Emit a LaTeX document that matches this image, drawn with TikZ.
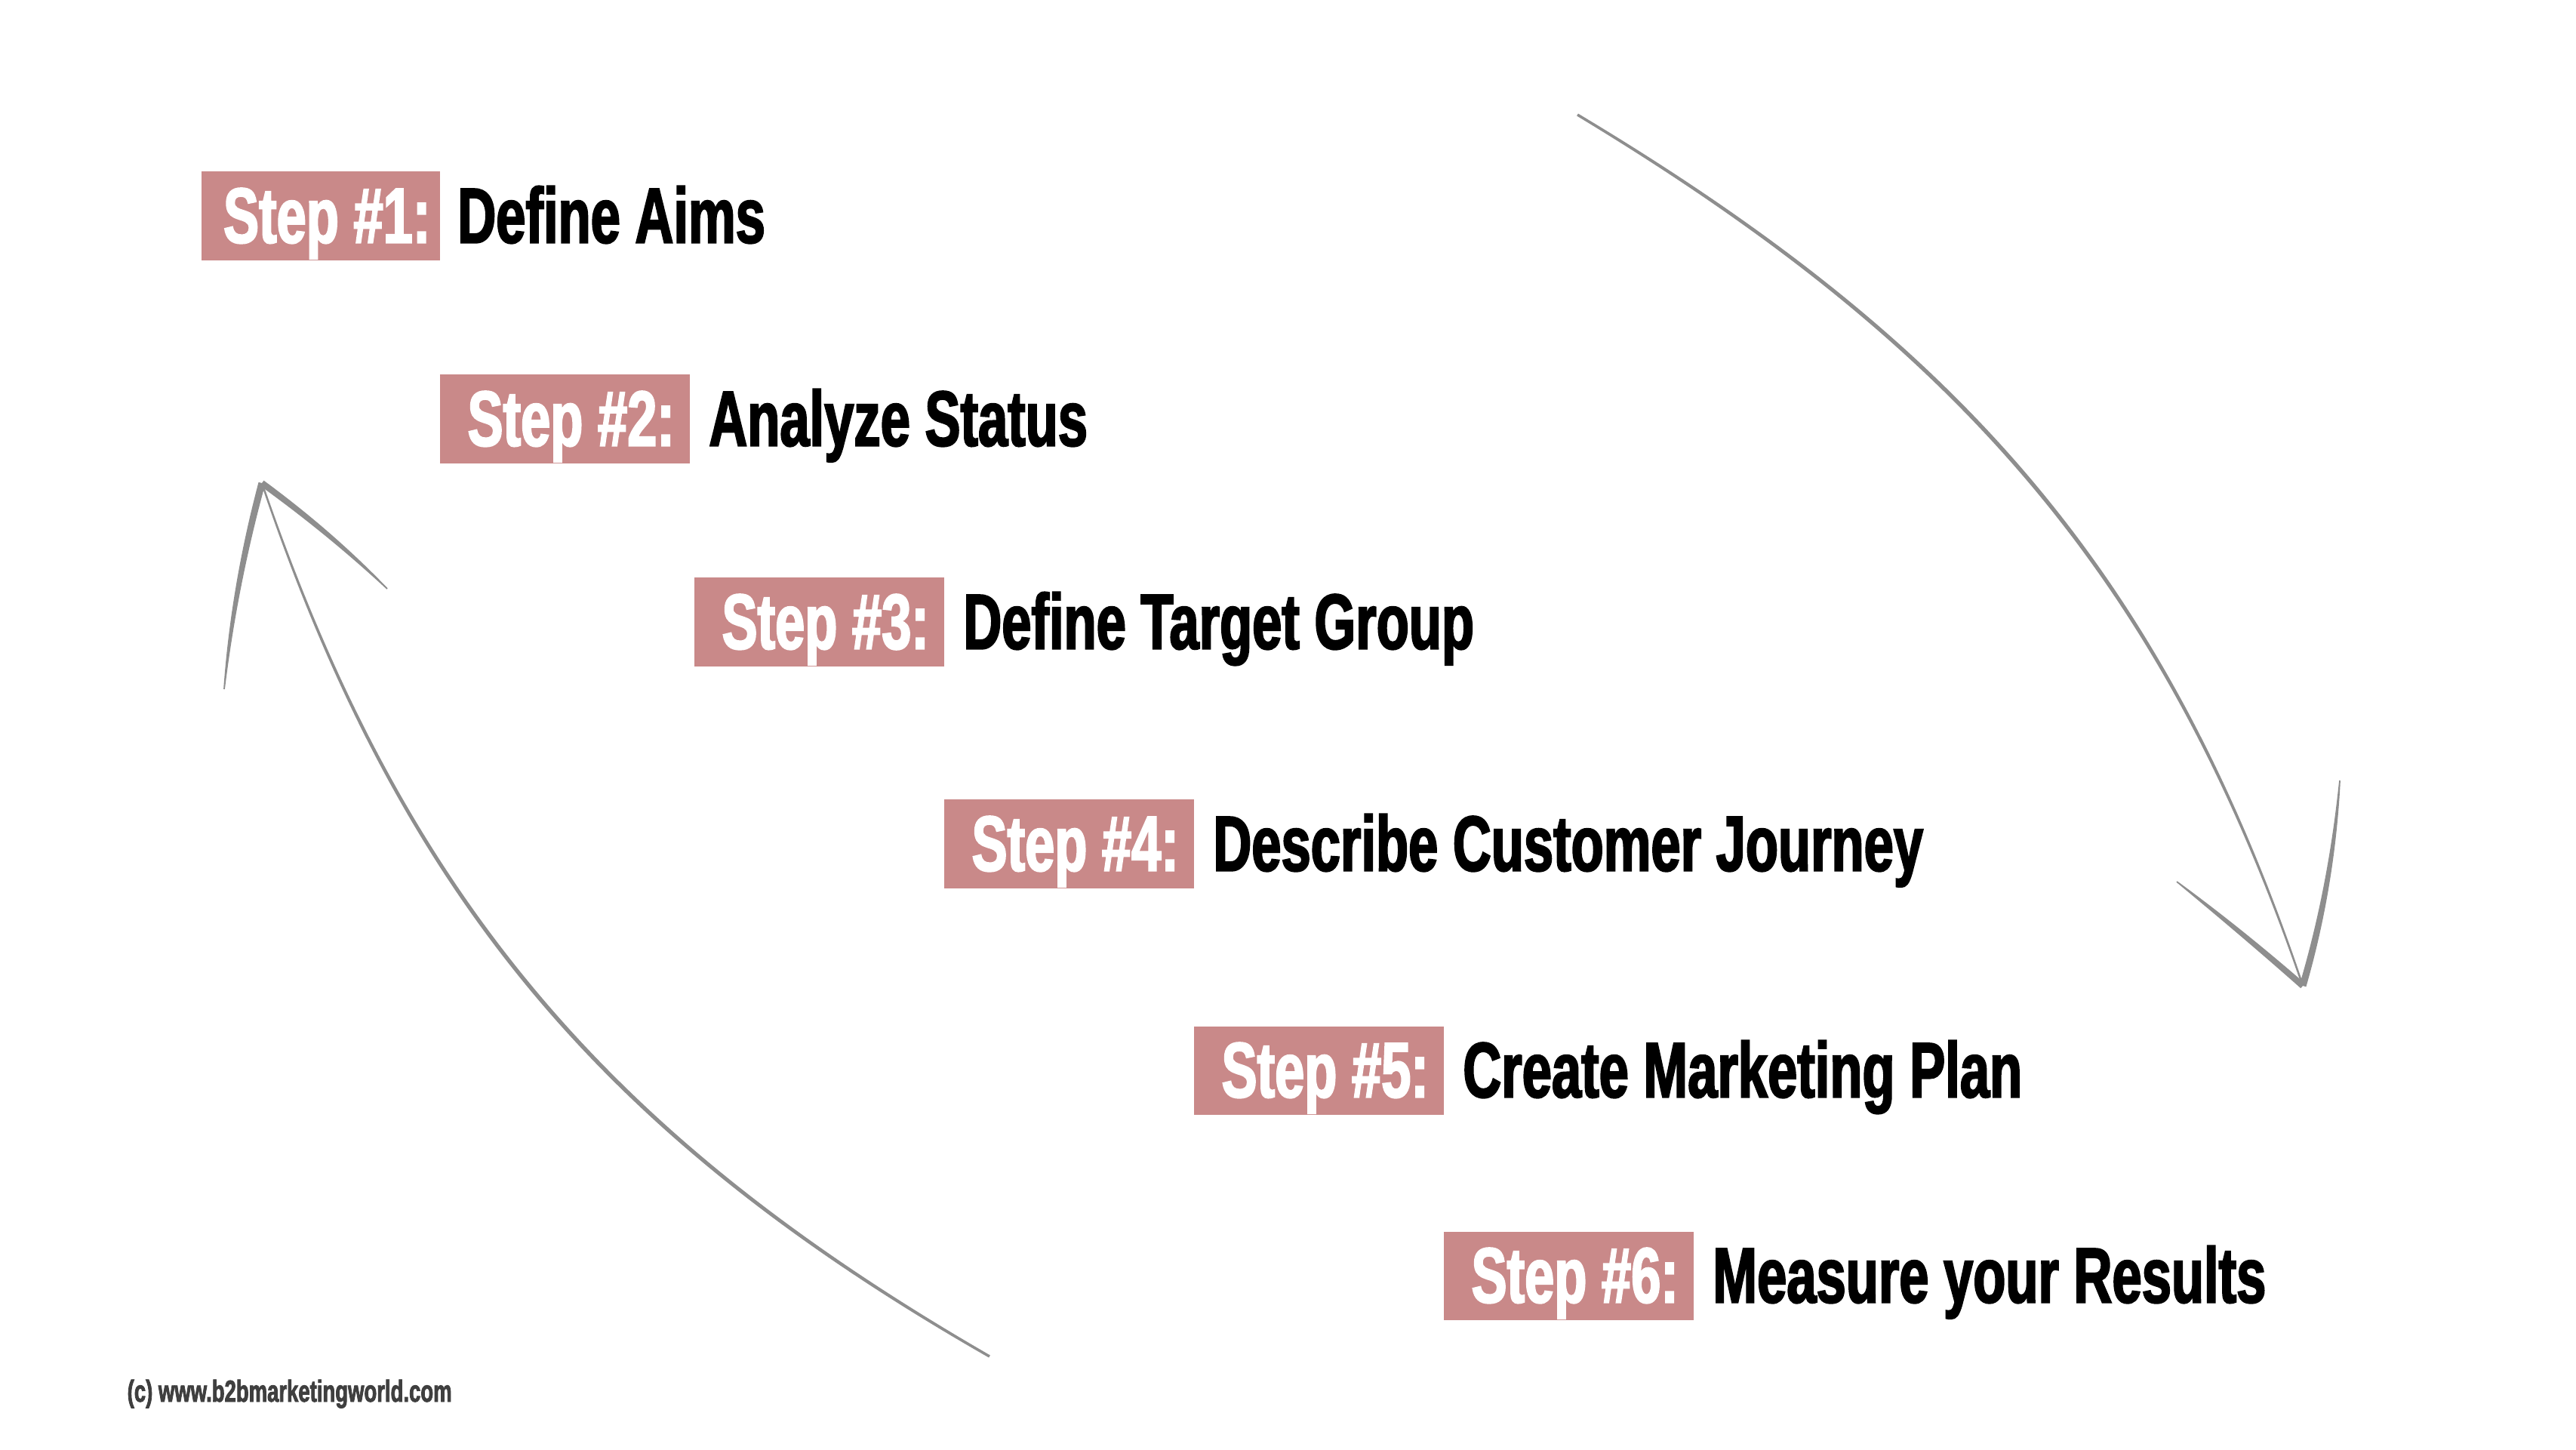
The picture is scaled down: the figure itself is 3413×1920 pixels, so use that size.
\documentclass[tikz,border=0pt]{standalone}
\usepackage{fontspec}
\newfontfamily\condfont{Liberation Sans}[FakeStretch=0.68, FakeBold=2]
\usetikzlibrary{calc}
\definecolor{boxc}{HTML}{C98989}
\definecolor{arrowc}{HTML}{8E8E8E}
\definecolor{creditc}{HTML}{3F3F3F}
% tapered stroke along a cubic curve: points #1..#4, half widths #5..#8, options #9
\newcommand\taper[9]{%
  \fill[#9] ($(#1)!#5!90:(#2)$) .. controls ($(#2)!#6!90:(#3)$) and ($(#3)!#7!-90:(#2)$) .. ($(#4)!#8!-90:(#3)$)
   -- ($(#4)!#8!90:(#3)$) .. controls ($(#3)!#7!90:(#2)$) and ($(#2)!#6!-90:(#3)$) .. ($(#1)!#5!-90:(#2)$) -- cycle;}
\begin{document}
\begin{tikzpicture}[x=0.01cm,y=-0.01cm,
  stepbox/.style={rectangle, fill=boxc, text=white,
    font=\condfont\bfseries\fontsize{29.5pt}{30pt}\selectfont,
    inner xsep=0pt, inner ysep=0pt, minimum width=3.31cm, minimum height=1.17cm,
    text height=21.1pt, text depth=0.85pt, anchor=west},
  steplabel/.style={font=\condfont\bfseries\fontsize{29.5pt}{30pt}\selectfont,
    text=black, inner sep=0pt, anchor=base west},
  credit/.style={font=\condfont\bfseries\fontsize{11.5pt}{12pt}\selectfont,
    text=creditc, inner sep=0pt, anchor=base west}]
\useasboundingbox[fill=white] (0,0) rectangle (3413,1920);

% ---- arrow coordinates ----
\coordinate (rS)  at (2090,152);
\coordinate (rC1) at (2589,452);
\coordinate (rC2) at (2864,755);
\coordinate (rT)  at (3051,1306);
\coordinate (rA1) at (3077,1217);
\coordinate (rA2) at (3093,1126);
\coordinate (rAE) at (3100,1034);
\coordinate (rB1) at (2994,1256);
\coordinate (rB2) at (2938,1210);
\coordinate (rBE) at (2884,1168);

\coordinate (lT)  at (347,640);
\coordinate (lC1) at (534,1191);
\coordinate (lC2) at (806,1507);
\coordinate (lE)  at (1311,1797);
\coordinate (lA1) at (323,729);
\coordinate (lA2) at (306,820);
\coordinate (lAE) at (297,913);
\coordinate (lB1) at (406,683);
\coordinate (lB2) at (461,729);
\coordinate (lBE) at (513,780);

% ---- right arrow (down) ----
\taper{rS}{rC1}{rC2}{rT}{0.5pt}{0.9pt}{0.85pt}{0.35pt}{arrowc}
\taper{rT}{rA1}{rA2}{rAE}{1.3pt}{1.2pt}{0.9pt}{0.25pt}{arrowc}
\taper{rT}{rB1}{rB2}{rBE}{1.2pt}{1.1pt}{0.85pt}{0.25pt}{arrowc}

% ---- left arrow (up) ----
\taper{lT}{lC1}{lC2}{lE}{0.35pt}{0.85pt}{0.9pt}{0.5pt}{arrowc}
\taper{lT}{lA1}{lA2}{lAE}{1.3pt}{1.2pt}{0.9pt}{0.25pt}{arrowc}
\taper{lT}{lB1}{lB2}{lBE}{1.2pt}{1.1pt}{0.85pt}{0.25pt}{arrowc}

% ---- steps ----
\node[stepbox, minimum width=3.16cm] (s1) at (266,286)  {\kern4.8pt Step \#1:};
\node[stepbox] (s2) at (582,555)  {\kern4.8pt Step \#2:};
\node[stepbox] (s3) at (919,824)  {\kern4.8pt Step \#3:};
\node[stepbox] (s4) at (1250,1118) {\kern4.8pt Step \#4:};
\node[stepbox] (s5) at (1581,1418) {\kern4.8pt Step \#5:};
\node[stepbox] (s6) at (1912,1690) {\kern4.8pt Step \#6:};

\node[steplabel] (t1) at ([xshift=0.22cm]s1.base east) {Define Aims};
\node[steplabel] (t2) at ([xshift=0.24cm]s2.base east) {Analyze Status};
\node[steplabel] (t3) at ([xshift=0.24cm]s3.base east) {Define Target Group};
\node[steplabel] (t4) at ([xshift=0.24cm]s4.base east) {Describe Customer Journey};
\node[steplabel] (t5) at ([xshift=0.24cm]s5.base east) {Create Marketing Plan};
\node[steplabel] (t6) at ([xshift=0.24cm]s6.base east) {Measure your Results};

\node[credit] (c) at (168,1857) {(c) www.b2bmarketingworld.com};
\end{tikzpicture}
\end{document}
